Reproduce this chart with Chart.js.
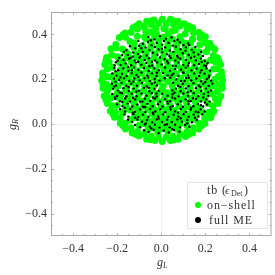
<!DOCTYPE html>
<html>
<head>
<meta charset="utf-8">
<style>
  html, body { margin: 0; padding: 0; background: #fff; }
  #wrap { width: 275px; height: 275px; }
</style>
<script src="https://cdn.jsdelivr.net/npm/chart.js@4/dist/chart.umd.js"></script>
</head>
<body>
<div id="wrap"><canvas id="chart" width="275" height="275"></canvas></div>
<script>
// values, [gL, gR]
const tickLabels = [-0.4, -0.2, 0, 0.2, 0.4];
const minorTicks = [-0.45, -0.35, -0.3, -0.25, -0.15, -0.1, -0.05, 0.05, 0.1, 0.15, 0.25, 0.3, 0.35, 0.45];

const legendTitle = "tb (";
const seriesNames = ["on\u2212shell", "full ME"];

const onShellEdge = [
  [.278,.195],[.273,.233],[.269,.266],[.255,.296],[.243,.334],[.22,.361],[.2,.39],[.171,.41],
  [.142,.43],[.105,.447],[.076,.459],[.041,.468],[.005,.468],[-.033,.464],[-.066,.459],[-.1,.447],
  [-.128,.43],[-.164,.406],[-.19,.386],[-.206,.355],[-.228,.336],[-.248,.297],[-.256,.266],[-.266,.228],
  [-.27,.195],[-.264,.16],[-.259,.125],[-.244,.092],[-.231,.058],[-.212,.03],[-.186,.003],[-.162,-.022],
  [-.132,-.04],[-.1,-.054],[-.066,-.068],[-.028,-.074],[.005,-.078],[.042,-.074],[.076,-.068],[.11,-.056],
  [.142,-.04],[.17,-.022],[.198,.002],[.224,.028],[.238,.058],[.257,.092],[.27,.125],[.276,.16],
  [.274,.213],[.261,.282],[.229,.345],[.183,.398],[.124,.437],[.058,.46],
  [-.048,.46],[-.114,.437],[-.173,.398],[-.251,.282],[-.264,.213],
  [-.264,.177],[-.251,.108],[-.219,.045],[-.173,-.008],[-.114,-.047],[-.048,-.07],
  [.058,-.07],[.124,-.047],[.183,-.008],[.229,.045],[.261,.108],[.274,.177]
];

const onShellOuter = [
  [.259,.212],[.252,.247],[.246,.277],[.237,.306],[.214,.339],[.197,.363],[.176,.385],[.147,.407],[.118,.424],[.084,.438],[.055,.445],[.022,.449],
  [-.012,.449],[-.045,.442],[-.077,.436],[-.108,.424],[-.137,.41],[-.163,.387],[-.204,.339],[-.224,.308],[-.236,.277],[-.245,.245],[-.249,.212],
  [-.249,.178],[-.245,.145],[-.232,.115],[-.224,.082],[-.207,.053],[-.187,.027],[-.163,.003],[-.137,-.017],[-.108,-.034],[-.077,-.046],[-.045,-.055],[-.012,-.059],
  [.022,-.059],[.055,-.055],[.087,-.046],[.118,-.034],[.147,-.017],[.173,.003],[.197,.027],[.217,.053],[.234,.082],[.246,.113],[.255,.145],[.259,.178]
];

const onShellMiddle = [
  [.243,.2],[.238,.245],[.224,.285],[.204,.322],[.175,.354],[.142,.38],[.108,.402],[.064,.418],
  [.018,.428],[-.026,.426],[-.07,.415],[-.108,.392],[-.142,.368],[-.176,.335],[-.198,.3],[-.22,.252],
  [-.232,.21],[-.23,.164],[-.218,.12],[-.2,.084],[-.174,.048],[-.14,.018],[-.1,-.006],[-.06,-.024],
  [-.016,-.036],[.03,-.034],[.074,-.024],[.116,-.006],[.152,.02],[.186,.054],[.212,.092],[.232,.134],[.24,.168],
  [.213,.222],[.199,.275],[.172,.323],[.133,.362],[.085,.389],[.032,.403],
  [-.022,.403],[-.075,.389],[-.123,.362],[-.162,.323],[-.189,.275],[-.203,.222],
  [-.203,.168],[-.189,.115],[-.162,.067],[-.123,.028],[-.075,.001],[-.022,-.013],
  [.032,-.013],[.085,.001],[.133,.028],[.172,.067],[.199,.115],[.213,.168]
];

const onShellInner = [
  [-.07,.382],[-.03,.39],[.01,.388],[.05,.38],[.09,.37],[-.05,.41],[.012,.425],[.05,.415],
  [-.125,.342],[-.085,.35],[-.045,.356],[-.008,.35],[.03,.354],[.07,.345],[.11,.343],[.145,.33],
  [-.15,.312],[-.11,.314],[-.07,.318],[-.03,.312],[.012,.318],[.05,.31],[.09,.315],[.128,.305],[.17,.3],
  [-.175,.28],[-.135,.276],[-.095,.282],[-.052,.278],[-.012,.28],[.028,.277],[.07,.282],[.11,.274],[.15,.278],[.19,.27],
  [-.185,.242],[-.148,.242],[-.108,.238],[-.066,.245],[-.028,.24],[.012,.242],[.052,.238],[.092,.245],[.132,.24],[.172,.238],[.205,.232],
  [-.19,.206],[-.15,.204],[-.112,.208],[-.072,.202],[-.034,.208],[.006,.202],[.048,.208],[.088,.204],[.13,.206],[.168,.202],[.205,.198],
  [-.195,.17],[-.155,.168],[-.115,.172],[-.075,.166],[-.035,.17],[.008,.168],[.05,.172],[.09,.166],[.13,.17],[.17,.166],[.205,.16],
  [-.18,.134],[-.14,.132],[-.1,.136],[-.06,.13],[-.018,.135],[.022,.14],[.04,.13],[.072,.135],[.112,.13],[.152,.134],[.19,.128],
  [-.165,.098],[-.125,.096],[-.085,.1],[-.045,.094],[-.005,.098],[.035,.096],[.075,.1],[.115,.094],[.155,.098],
  [-.14,.062],[-.1,.06],[-.06,.065],[-.02,.06],[.02,.064],[.06,.06],[.1,.064],[.14,.06],
  [-.105,.028],[-.065,.025],[-.025,.03],[.015,.025],[.055,.028],[.095,.025],
  [-.055,-.004],[-.015,-.002],[.025,-.005],[.062,0]
];

// second pass of green marks, in the gaps of the first
const onShellGaps = [
  [-.05,.368],[-.012,.37],[.03,.37],[.07,.362],[.11,.36],[-.09,.33],[-.05,.336],[-.01,.334],[.03,.336],[.072,.328],[.11,.326],[.15,.315],
  [-.155,.296],[-.115,.298],[-.072,.3],[-.032,.296],[.008,.298],[.05,.296],[.09,.298],[.13,.29],[.17,.286],
  [-.165,.26],[-.127,.26],[-.086,.262],[-.047,.26],[-.008,.262],[.03,.258],[.072,.262],[.112,.258],[.152,.258],[.19,.25],
  [-.17,.224],[-.13,.222],[-.09,.226],[-.052,.224],[-.014,.222],[.027,.224],[.068,.226],[.11,.224],[.15,.222],[.188,.216],
  [-.175,.188],[-.134,.186],[-.095,.19],[-.055,.184],[-.014,.188],[.03,.19],[.07,.188],[.11,.186],[.15,.188],[.188,.18],[.222,.18],
  [-.212,.188],[-.16,.15],[-.12,.152],[-.08,.15],[-.04,.152],[.002,.154],[.055,.152],[.092,.15],[.132,.152],[.172,.148],[.21,.142],
  [-.2,.14],[-.15,.114],[-.108,.116],[-.066,.112],[-.025,.116],[.015,.116],[.055,.116],[.095,.112],[.135,.114],[.175,.112],
  [-.118,.078],[-.08,.08],[-.04,.078],[0,.08],[.04,.08],[.08,.08],[.12,.078],[.16,.078],[-.16,.078],
  [-.12,.044],[-.082,.044],[-.042,.046],[-.002,.044],[.036,.044],[.078,.044],[.118,.042],[.158,.044],
  [-.08,.01],[-.04,.012],[0,.012],[.04,.01],[.08,.012],[.118,.02],[-.035,-.018],[.005,-.02],[.045,-.016]
];

const fullME = [
  [-.058,.389],[-.031,.378],[-.006,.392],[.021,.381],[.047,.386],[.074,.376],[.012,.371],
  [-.104,.371],[-.083,.358],[-.06,.367],[-.044,.352],[-.02,.362],[.004,.354],[.033,.362],[.052,.35],[.084,.365],[.101,.352],[.122,.36],
  [-.142,.347],[-.118,.338],[-.1,.349],[-.071,.341],[-.053,.33],[-.029,.344],[-.012,.333],[.018,.342],[.039,.328],[.066,.345],[.088,.334],[.112,.342],[.138,.331],[.155,.344],
  [-.17,.322],[-.152,.308],[-.127,.319],[-.106,.312],[-.084,.322],[-.066,.306],[-.038,.318],[-.017,.309],[.004,.32],[.027,.311],[.055,.322],[.072,.305],[.098,.316],[.124,.308],[.147,.319],[.168,.31],[-.139,.295],[.181,.322],
  [-.19,.296],[-.171,.286],[-.146,.291],[-.121,.283],[-.098,.297],[-.075,.286],[-.055,.294],[-.028,.284],[-.006,.297],[.015,.289],[.043,.295],[.064,.283],[.086,.291],[.112,.286],[.135,.296],[.157,.284],[.18,.292],[.197,.282],
  [-.206,.276],[-.184,.263],[-.161,.27],[-.136,.262],[-.115,.274],[-.09,.265],[-.068,.272],[-.041,.261],[-.018,.275],[.002,.266],[.031,.271],[.052,.26],[.078,.274],[.1,.263],[.125,.272],[.149,.262],[.171,.268],[.194,.261],[.21,.272],
  [-.214,.25],[-.195,.24],[-.172,.248],[-.149,.238],[-.124,.252],[-.104,.241],[-.079,.25],[-.057,.237],[-.032,.249],[-.011,.24],[.017,.252],[.039,.238],[.063,.246],[.09,.242],[.111,.251],[.137,.239],[.16,.247],[.183,.24],[.205,.249],[.221,.238],
  [-.222,.226],[-.203,.216],[-.178,.224],[-.157,.214],[-.134,.228],[-.112,.219],[-.09,.23],[-.063,.216],[-.042,.226],[-.021,.214],[.008,.228],[.029,.217],[.055,.225],[.077,.215],[.101,.229],[.122,.217],[.149,.226],[.172,.214],[.196,.225],[.218,.216],
  [-.214,.203],[-.191,.196],[-.169,.204],[-.145,.192],[-.122,.203],[-.098,.194],[-.076,.205],[-.052,.192],[-.03,.201],[-.008,.193],[.016,.204],[.041,.207],[.068,.199],[.09,.192],[.113,.205],[.136,.194],[.159,.203],[.181,.191],[.207,.2],[.226,.193],
  [-.224,.18],[-.205,.172],[-.18,.183],[-.158,.17],[-.136,.18],[-.11,.171],[-.088,.183],[-.066,.168],[-.043,.18],[-.02,.172],[.054,.184],[.076,.171],[.097,.18],[.124,.169],[.146,.182],[.17,.172],[.191,.18],[.215,.17],[.232,.181],
  [-.218,.157],[-.196,.149],[-.172,.16],[-.147,.147],[-.125,.158],[-.101,.149],[-.079,.161],[-.055,.146],[-.031,.157],[-.012,.148],[.05,.15],[.067,.158],[.088,.146],[.112,.159],[.134,.148],[.157,.16],[.181,.147],[.203,.158],[.226,.15],
  [-.222,.134],[-.2,.125],[-.179,.137],[-.158,.124],[-.134,.135],[-.112,.124],[-.089,.136],[-.067,.126],[-.043,.137],[-.021,.123],[.004,.135],[.029,.126],[.051,.133],[.078,.123],[.1,.136],[.122,.125],[.147,.137],[.168,.124],[.193,.134],[.214,.125],
  [-.208,.112],[-.187,.102],[-.164,.114],[-.142,.101],[-.118,.11],[-.096,.1],[-.074,.113],[-.05,.103],[-.029,.114],[-.006,.1],[.017,.111],[.04,.102],[.063,.114],[.088,.101],[.111,.11],[.133,.102],[.158,.113],[.18,.101],[.204,.11],[.219,.1],
  [-.2,.088],[-.176,.08],[-.152,.091],[-.131,.078],[-.108,.087],[-.083,.077],[-.063,.09],[-.039,.079],[-.015,.088],[.006,.078],[.03,.091],[.052,.08],[.075,.088],[.098,.077],[.123,.09],[.145,.079],[.167,.089],[.19,.078],[.208,.087],
  [-.186,.066],[-.164,.056],[-.141,.067],[-.119,.055],[-.096,.065],[-.072,.054],[-.05,.067],[-.027,.056],[-.004,.066],[.018,.053],[.042,.065],[.063,.056],[.088,.067],[.111,.054],[.134,.065],[.156,.055],[.178,.066],[.197,.056],
  [-.168,.043],[-.149,.033],[-.126,.044],[-.104,.032],[-.083,.042],[-.059,.031],[-.036,.044],[-.014,.034],[.009,.043],[.032,.031],[.056,.041],[.077,.033],[.101,.044],[.124,.032],[.147,.042],[.169,.034],[.186,.044],
  [-.151,.019],[-.132,.009],[-.108,.02],[-.087,.01],[-.064,.018],[-.041,.008],[-.02,.02],[.004,.009],[.027,.019],[.048,.008],[.073,.02],[.094,.01],[.118,.018],[.139,.008],[.161,.018],
  [-.119,-.004],[-.097,-.014],[-.074,-.002],[-.052,-.012],[-.029,-.003],[-.008,-.016],[.016,-.004],[.038,-.015],[.063,-.003],[.085,-.014],[.108,-.004],[.128,-.012],
  [-.078,-.028],[-.058,-.036],[-.034,-.026],[-.012,-.04],[.011,-.029],[.034,-.038],[.058,-.027],[.082,-.034],
  // second read of the crowded parts
  [-.047,.374],[.059,.371],[-.09,.338],[.127,.352],[.003,.336],[-.158,.33],[-.094,.303],[.037,.304],[.11,.327],[-.178,.307],
  [-.13,.301],[-.042,.277],[.075,.297],[.15,.3],[.189,.304],[-.197,.283],[-.104,.278],[.027,.28],[.122,.261],[.183,.277],
  [-.212,.262],[-.15,.255],[-.054,.258],[.066,.259],[.204,.26],[-.207,.236],[-.133,.24],[-.02,.229],[.098,.23],[.176,.23],
  [-.185,.208],[-.104,.21],[-.058,.207],[.048,.218],[.125,.206],[.216,.208],[-.207,.189],[-.126,.19],[-.03,.186],[.106,.192],
  [.2,.187],[-.214,.167],[-.148,.164],[-.056,.162],[.086,.165],[.178,.165],[-.188,.14],[-.113,.144],[-.022,.136],[.06,.14],
  [.12,.142],[.212,.142],[-.21,.118],[-.128,.117],[-.038,.118],[.05,.118],[.144,.115],[.191,.118],[-.176,.098],[-.085,.1],
  [.028,.1],[.122,.102],[.198,.096],[-.165,.072],[-.073,.076],[.041,.075],[.135,.073],[.18,.084],[-.129,.05],[-.038,.05],
  [.076,.05],[.168,.053],[-.118,.028],[-.011,.025],[.088,.026],[.153,.028],[-.07,.002],[.026,-.001],[.118,.003],[-.045,-.02],[.05,-.022]
];

const onShell = [...onShellEdge, ...onShellOuter, ...onShellMiddle, ...onShellInner, ...onShellGaps];

// frame, minor ticks, axis names with subscript, legend box
const decorPlugin = {
  id: "decor",
  afterDraw(c) {
    const { ctx, chartArea: a, scales: { x, y } } = c;
    ctx.save();

    // ticks pointing into the frame
    ctx.strokeStyle = "#b4b4b4";
    ctx.lineWidth = 1;
    const tick = (v, len) => {
      const px = Math.round(x.getPixelForValue(v)) + 0.5;
      const py = Math.round(y.getPixelForValue(v)) + 0.5;
      ctx.beginPath();
      ctx.moveTo(px, a.bottom); ctx.lineTo(px, a.bottom - len);
      ctx.moveTo(px, a.top);    ctx.lineTo(px, a.top + len);
      ctx.moveTo(a.left, py);   ctx.lineTo(a.left + len, py);
      ctx.moveTo(a.right, py);  ctx.lineTo(a.right - len, py);
      ctx.stroke();
    };
    minorTicks.forEach(v => tick(v, 2));
    tickLabels.forEach(v => tick(v, 3));

    ctx.strokeStyle = "#a8a8a8";
    ctx.strokeRect(a.left + 0.5, a.top + 0.5, a.right - a.left - 1, a.bottom - a.top - 1);

    // axis names
    ctx.fillStyle = "#333";
    ctx.textBaseline = "alphabetic";
    ctx.textAlign = "left";
    ctx.font = "italic 12px 'Liberation Serif'";
    ctx.fillText("g", 157, 266);
    ctx.font = "italic 8px 'Liberation Serif'";
    ctx.fillText("L", 163, 268);

    ctx.save();
    ctx.translate(16, 130);
    ctx.rotate(-Math.PI / 2);
    ctx.font = "italic 12px 'Liberation Serif'";
    ctx.fillText("g", 0, 0);
    ctx.font = "italic 8px 'Liberation Serif'";
    ctx.fillText("R", 6, 2);
    ctx.restore();

    // legend
    ctx.fillStyle = "#fff";
    ctx.fillRect(187, 182, 81, 47);
    ctx.strokeStyle = "#e6e6e6";
    ctx.strokeRect(187.5, 182.5, 80, 46);

    ctx.fillStyle = "#333";
    ctx.font = "12px 'Liberation Serif'";
    ctx.letterSpacing = "0.9px";
    ctx.fillText(legendTitle, 207, 194);
    ctx.font = "italic 11px 'Liberation Serif'";
    ctx.fillText("\u03f5", 225, 194);
    ctx.letterSpacing = "0px";
    ctx.font = "8px 'Liberation Serif'";
    ctx.fillText("Det", 231, 196);
    ctx.font = "12px 'Liberation Serif'";
    ctx.fillText(")", 244, 194);
    ctx.letterSpacing = "0.9px";
    ctx.fillText(seriesNames[0], 207, 209);
    ctx.fillText(seriesNames[1], 209, 224);
    ctx.letterSpacing = "0px";

    ctx.fillStyle = "#00ff00";
    ctx.beginPath(); ctx.arc(198, 205, 3, 0, 2 * Math.PI); ctx.fill();
    ctx.fillStyle = "#000";
    ctx.beginPath(); ctx.arc(198, 220, 3, 0, 2 * Math.PI); ctx.fill();

    ctx.restore();
  }
};

function makeDataset(label, pts, color, radius, order) {
  return {
    label,
    data: pts.map(p => ({ x: p[0], y: p[1] })),
    backgroundColor: color,
    borderColor: color,
    pointRadius: radius,
    pointBorderWidth: 0,
    pointHoverRadius: radius,
    order
  };
}

function makeAxis(isY) {
  return {
    type: "linear",
    min: -0.5,
    max: 0.5,
    afterBuildTicks: s => { s.ticks = tickLabels.map(v => ({ value: v })); },
    afterFit: s => {
      if (isY) s.width = 51; else s.height = 39;
    },
    border: { display: false },
    grid: {
      drawTicks: false,
      color: c => (c.tick && c.tick.value === 0 ? "#f3f3f3" : "rgba(0,0,0,0)")
    },
    ticks: {
      color: "#333",
      padding: isY ? 4 : 6,
      maxRotation: 0,
      autoSkip: false,
      font: { family: "'Liberation Serif'", size: 12 },
      callback: v => (v < 0 ? "\u2212" : "") + Math.abs(v).toFixed(1)
    }
  };
}

new Chart(document.getElementById("chart"), {
  type: "scatter",
  data: {
    datasets: [
      makeDataset(seriesNames[0], onShell, "#00ff00", 3.5, 2),
      makeDataset(seriesNames[1], fullME, "#000000", 1.2, 1)
    ]
  },
  options: {
    responsive: false,
    animation: false,
    layout: { padding: { top: 12, right: 1, left: 0, bottom: 0 } },
    scales: { x: makeAxis(false), y: makeAxis(true) },
    plugins: { legend: { display: false }, tooltip: { enabled: false } }
  },
  plugins: [decorPlugin]
});
</script>
</body>
</html>
